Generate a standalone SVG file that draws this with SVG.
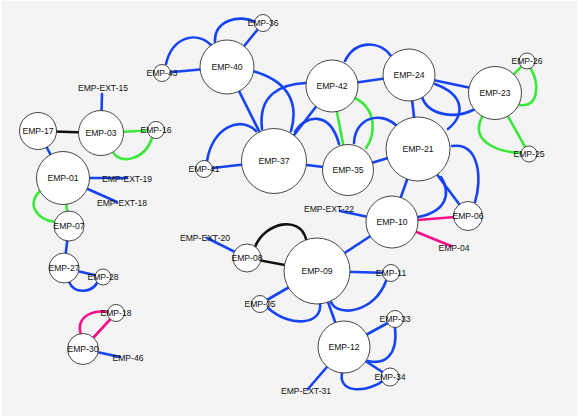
<svg xmlns="http://www.w3.org/2000/svg" width="579" height="418" viewBox="0 0 579 418">
<style>
.bg{fill:#f4f4f4}
.e{fill:none;stroke-width:2.6;stroke-linecap:round}
.b{stroke:#1744f2}
.g{stroke:#3be83b}
.p{stroke:#f5108a}
.k{stroke:#111}
.n{fill:#fff;stroke:#333;stroke-width:0.9}
text{font-family:"Liberation Sans",Arial,sans-serif;font-size:8.6px;fill:#111;text-anchor:middle;dominant-baseline:central}
</style>
<rect x="0" y="0" width="579" height="418" fill="#fff"/>
<rect class="bg" x="2" y="1" width="575" height="415"/>
<g id="connectors">
<line class="e k" x1="38" y1="131" x2="101" y2="133"/>
<line class="e b" x1="101" y1="133" x2="102" y2="94"/>
<line class="e g" x1="101" y1="133" x2="156" y2="130"/>
<path class="e g" d="M113,152 C120,165 145,160 152,138"/>
<line class="e b" x1="38" y1="131" x2="63" y2="178"/>
<line class="e b" x1="63" y1="178" x2="127" y2="178"/>
<line class="e b" x1="63" y1="178" x2="117" y2="202"/>
<line class="e g" x1="63" y1="178" x2="69" y2="226"/>
<path class="e g" d="M41,190 C25,205 38,220 55,222"/>
<line class="e b" x1="69" y1="226" x2="64" y2="268"/>
<line class="e b" x1="64" y1="268" x2="103" y2="277"/>
<path class="e b" d="M69,282 C75,295 92,292 97,283"/>
<line class="e p" x1="83" y1="349" x2="116" y2="313"/>
<path class="e p" d="M81,335 C75,315 95,310 107,312"/>
<line class="e b" x1="83" y1="349" x2="120" y2="357"/>
<line class="e b" x1="227" y1="67" x2="263" y2="23"/>
<path class="e b" d="M215,42 C214,20 240,14 255,22"/>
<line class="e b" x1="227" y1="67" x2="162" y2="73"/>
<path class="e b" d="M166,64 C172,38 195,30 211,45"/>
<line class="e b" x1="227" y1="67" x2="274" y2="161"/>
<path class="e b" d="M253,71 C285,80 300,100 291,131"/>
<line class="e b" x1="274" y1="161" x2="332" y2="86"/>
<path class="e b" d="M262,129 C258,95 280,84 306,83"/>
<line class="e b" x1="274" y1="161" x2="348" y2="170"/>
<path class="e b" d="M295,132 C305,115 330,110 339,144"/>
<line class="e b" x1="274" y1="161" x2="204" y2="169"/>
<path class="e b" d="M207,161 C212,128 240,115 256,131"/>
<line class="e g" x1="332" y1="86" x2="348" y2="170"/>
<path class="e g" d="M355,98 C378,110 375,135 366,148"/>
<line class="e b" x1="332" y1="86" x2="409" y2="75"/>
<path class="e b" d="M345,61 C355,40 380,40 391,56"/>
<line class="e b" x1="348" y1="170" x2="418" y2="149"/>
<path class="e b" d="M354,143 C355,118 380,110 397,126"/>
<line class="e b" x1="409" y1="75" x2="418" y2="149"/>
<path class="e b" d="M435,84 C465,95 465,115 448,129"/>
<line class="e b" x1="409" y1="75" x2="495" y2="93"/>
<path class="e b" d="M422,97 C428,115 455,120 475,109"/>
<line class="e g" x1="495" y1="93" x2="527" y2="61"/>
<path class="e g" d="M531,69 C540,85 538,108 520,105"/>
<line class="e g" x1="495" y1="93" x2="529" y2="154"/>
<path class="e g" d="M482,117 C470,140 495,152 521,153"/>
<line class="e b" x1="418" y1="149" x2="468" y2="216"/>
<path class="e b" d="M452,146 C480,142 482,180 475,202"/>
<line class="e b" x1="418" y1="149" x2="392" y2="222"/>
<path class="e b" d="M441,177 C452,195 445,212 418,217"/>
<line class="e p" x1="392" y1="222" x2="468" y2="216"/>
<line class="e p" x1="392" y1="222" x2="451" y2="246"/>
<line class="e b" x1="392" y1="222" x2="340" y2="211"/>
<line class="e b" x1="392" y1="222" x2="317" y2="271"/>
<line class="e b" x1="317" y1="271" x2="391" y2="273"/>
<path class="e b" d="M331,302 C338,318 375,312 386,281"/>
<line class="e b" x1="317" y1="271" x2="344" y2="347"/>
<line class="e b" x1="317" y1="271" x2="260" y2="304"/>
<path class="e b" d="M268,308 C290,328 323,325 320,303"/>
<line class="e k" x1="317" y1="271" x2="247" y2="258"/>
<path class="e k" d="M255,247 C265,222 300,215 306,239"/>
<line class="e b" x1="247" y1="258" x2="207" y2="238"/>
<line class="e b" x1="344" y1="347" x2="395" y2="319"/>
<path class="e b" d="M395,328 C398,355 385,365 368,361"/>
<line class="e b" x1="344" y1="347" x2="390" y2="377"/>
<path class="e b" d="M342,373 C338,395 370,392 384,380"/>
<line class="e b" x1="344" y1="347" x2="308" y2="389"/>
</g>
<g id="EMP-17"><circle class="n" cx="38" cy="131" r="18.5"/><text x="38" y="131">EMP-17</text></g>
<g id="EMP-03"><circle class="n" cx="101" cy="133" r="22.5"/><text x="101" y="133">EMP-03</text></g>
<g id="EMP-16"><circle class="n" cx="156" cy="130" r="8.5"/><text x="156" y="130">EMP-16</text></g>
<g id="EMP-EXT-15"><text x="103" y="88">EMP-EXT-15</text></g>
<g id="EMP-01"><circle class="n" cx="63" cy="178" r="26.5"/><text x="63" y="178">EMP-01</text></g>
<g id="EMP-EXT-19"><text x="127" y="179">EMP-EXT-19</text></g>
<g id="EMP-EXT-18"><text x="122" y="203">EMP-EXT-18</text></g>
<g id="EMP-07"><circle class="n" cx="69" cy="226" r="15"/><text x="69" y="226">EMP-07</text></g>
<g id="EMP-27"><circle class="n" cx="64" cy="268" r="15"/><text x="64" y="268">EMP-27</text></g>
<g id="EMP-28"><circle class="n" cx="103" cy="277" r="8"/><text x="103" y="277">EMP-28</text></g>
<g id="EMP-18"><circle class="n" cx="116" cy="313" r="8.5"/><text x="116" y="313">EMP-18</text></g>
<g id="EMP-30"><circle class="n" cx="83" cy="349" r="15.5"/><text x="83" y="349">EMP-30</text></g>
<g id="EMP-46"><text x="128" y="358">EMP-46</text></g>
<g id="EMP-40"><circle class="n" cx="227" cy="67" r="27"/><text x="227" y="67">EMP-40</text></g>
<g id="EMP-36"><circle class="n" cx="263" cy="23" r="8.5"/><text x="263" y="23">EMP-36</text></g>
<g id="EMP-43"><circle class="n" cx="162" cy="73" r="8.5"/><text x="162" y="73">EMP-43</text></g>
<g id="EMP-37"><circle class="n" cx="274" cy="161" r="32.5"/><text x="274" y="161">EMP-37</text></g>
<g id="EMP-41"><circle class="n" cx="204" cy="169" r="8.5"/><text x="204" y="169">EMP-41</text></g>
<g id="EMP-42"><circle class="n" cx="332" cy="86" r="26"/><text x="332" y="86">EMP-42</text></g>
<g id="EMP-35"><circle class="n" cx="348" cy="170" r="25.5"/><text x="348" y="170">EMP-35</text></g>
<g id="EMP-24"><circle class="n" cx="409" cy="75" r="26"/><text x="409" y="75">EMP-24</text></g>
<g id="EMP-21"><circle class="n" cx="418" cy="149" r="32"/><text x="418" y="149">EMP-21</text></g>
<g id="EMP-23"><circle class="n" cx="495" cy="93" r="26.5"/><text x="495" y="93">EMP-23</text></g>
<g id="EMP-26"><circle class="n" cx="527" cy="61" r="8"/><text x="527" y="61">EMP-26</text></g>
<g id="EMP-25"><circle class="n" cx="529" cy="154" r="8"/><text x="529" y="154">EMP-25</text></g>
<g id="EMP-10"><circle class="n" cx="392" cy="222" r="26"/><text x="392" y="222">EMP-10</text></g>
<g id="EMP-06"><circle class="n" cx="468" cy="216" r="14.5"/><text x="468" y="216">EMP-06</text></g>
<g id="EMP-04"><text x="454" y="248">EMP-04</text></g>
<g id="EMP-EXT-22"><text x="329" y="209">EMP-EXT-22</text></g>
<g id="EMP-09"><circle class="n" cx="317" cy="271" r="33"/><text x="317" y="271">EMP-09</text></g>
<g id="EMP-08"><circle class="n" cx="247" cy="258" r="14"/><text x="247" y="258">EMP-08</text></g>
<g id="EMP-EXT-20"><text x="205" y="238">EMP-EXT-20</text></g>
<g id="EMP-11"><circle class="n" cx="391" cy="273" r="8.5"/><text x="391" y="273">EMP-11</text></g>
<g id="EMP-05"><circle class="n" cx="260" cy="304" r="8.5"/><text x="260" y="304">EMP-05</text></g>
<g id="EMP-12"><circle class="n" cx="344" cy="347" r="26"/><text x="344" y="347">EMP-12</text></g>
<g id="EMP-33"><circle class="n" cx="395" cy="319" r="8.5"/><text x="395" y="319">EMP-33</text></g>
<g id="EMP-34"><circle class="n" cx="390" cy="377" r="9"/><text x="390" y="377">EMP-34</text></g>
<g id="EMP-EXT-31"><text x="306" y="391">EMP-EXT-31</text></g>
</svg>
